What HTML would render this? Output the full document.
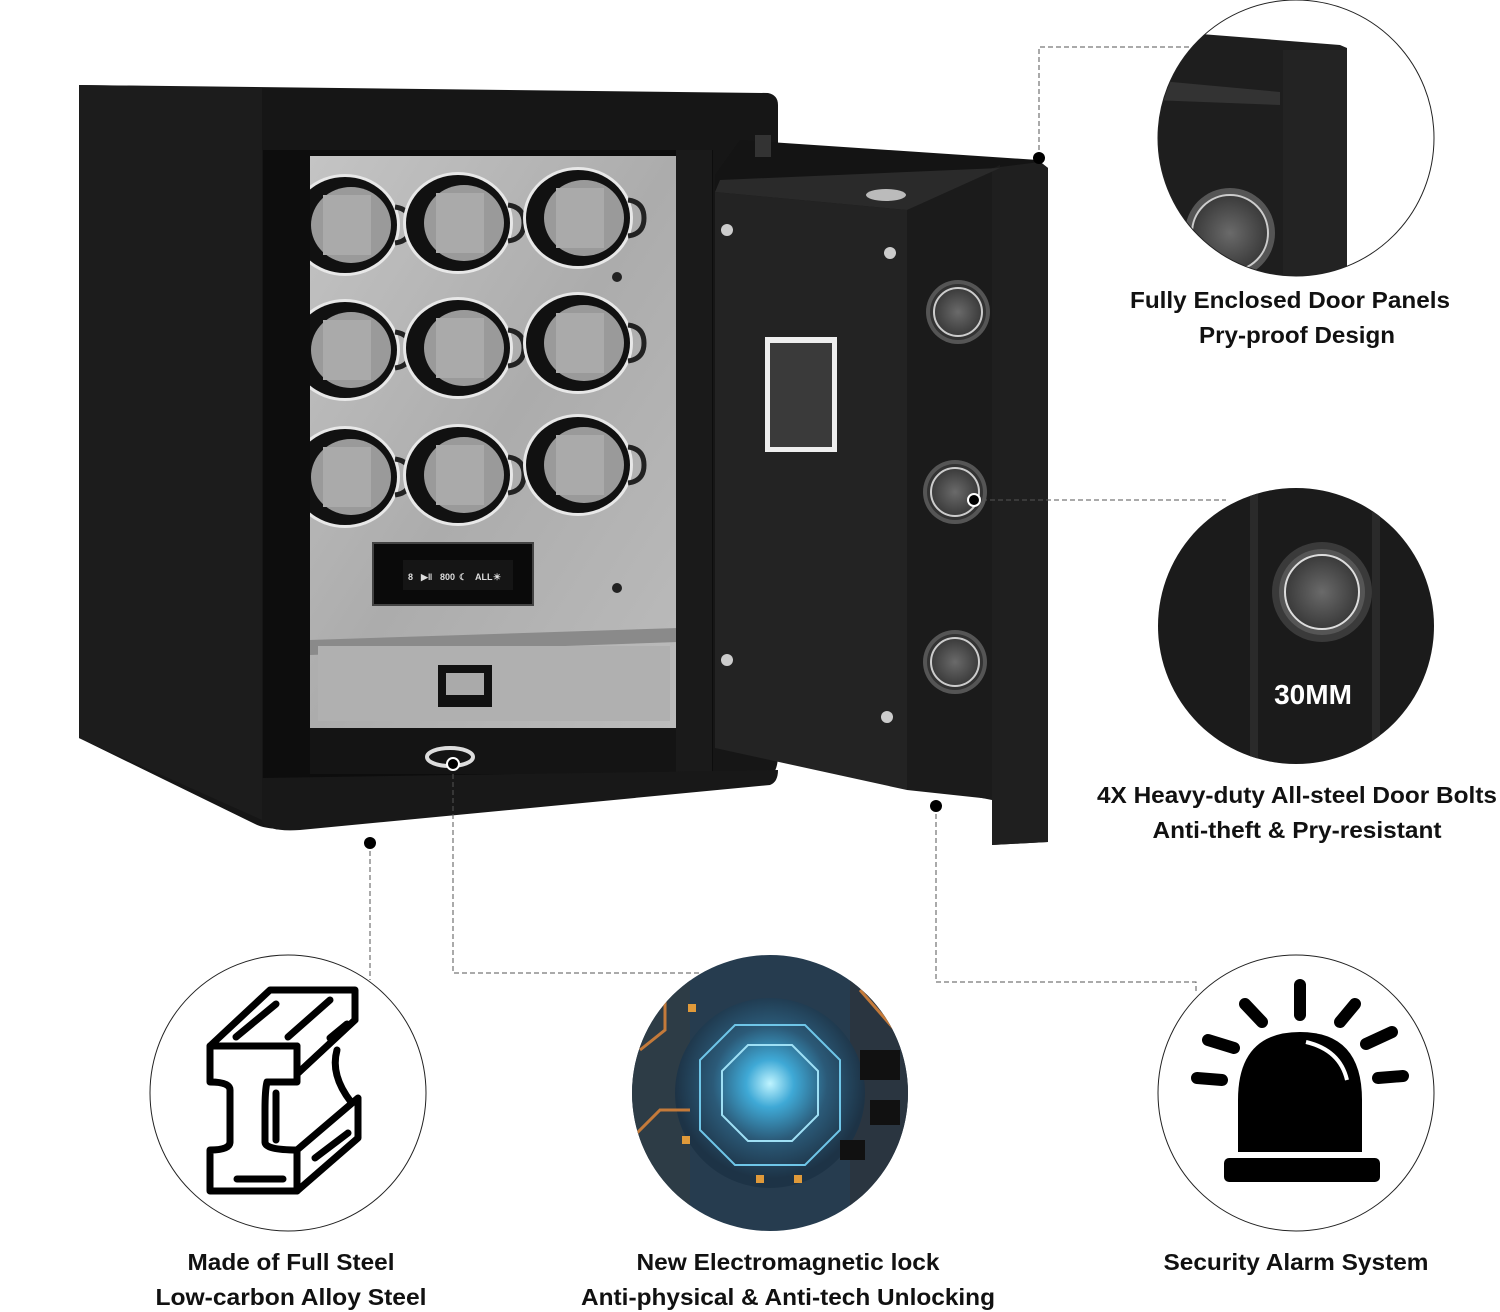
<!DOCTYPE html>
<html><head><meta charset="utf-8"><style>
html,body{margin:0;padding:0;background:#fff;}
svg{display:block;}
text{font-family:"Liberation Sans",Arial,sans-serif;font-weight:bold;}
</style></head><body>
<svg width="1500" height="1312" viewBox="0 0 1500 1312" xmlns="http://www.w3.org/2000/svg">
<defs>
<clipPath id="c1"><circle cx="1296" cy="138" r="138"/></clipPath>
<clipPath id="c2"><circle cx="1296" cy="626" r="138"/></clipPath>
<clipPath id="c3"><circle cx="770" cy="1093" r="138"/></clipPath>
<clipPath id="panel"><rect x="310" y="156" width="368" height="574"/></clipPath>
<radialGradient id="glow" cx="0.5" cy="0.45" r="0.5">
<stop offset="0" stop-color="#bff4ff"/><stop offset="0.25" stop-color="#3fa9d6"/><stop offset="0.6" stop-color="#2b5a78"/><stop offset="1" stop-color="#1d3346"/></radialGradient>
<radialGradient id="btn" cx="0.5" cy="0.5" r="0.5"><stop offset="0" stop-color="#6a6a6a"/><stop offset="1" stop-color="#3a3a3a"/></radialGradient>
<linearGradient id="grey" x1="0" y1="0" x2="1" y2="1"><stop offset="0" stop-color="#c4c4c4"/><stop offset="0.5" stop-color="#acacac"/><stop offset="1" stop-color="#bcbcbc"/></linearGradient>
<g id="cup">
<ellipse cx="0" cy="0" rx="55" ry="51" fill="#e8e8e8"/>
<ellipse cx="0" cy="0" rx="52" ry="48" fill="#111"/>
<ellipse cx="6" cy="0" rx="40" ry="38" fill="#9a9a9a"/>
<rect x="-22" y="-30" width="48" height="60" fill="#aaa"/>
<path d="M50,-18 Q66,-16 66,0 Q66,16 50,18" fill="none" stroke="#222" stroke-width="5"/>
</g>
<g id="bolt">
<circle r="32" fill="#555"/><circle r="28" fill="#333"/><circle r="24" fill="url(#btn)" stroke="#ccc" stroke-width="2"/>
</g>
</defs>

<!-- SAFE BODY -->
<path d="M79,85 L768,93 Q778,95 778,105 L778,755 Q778,772 768,780 L300,828 Q268,831 255,824 L79,738 Z" fill="#161616"/>
<path d="M79,85 L262,88 L262,820 L79,738 Z" fill="#1c1c1c"/>
<rect x="263" y="150" width="450" height="628" fill="#0d0d0d"/>
<rect x="310" y="156" width="368" height="574" fill="url(#grey)"/>
<path d="M310,640 L678,628 L678,642 L310,655 Z" fill="#8a8a8a"/>
<rect x="318" y="646" width="352" height="75" fill="#b0b0b0"/>
<rect x="438" y="665" width="54" height="42" fill="#111"/><rect x="446" y="673" width="38" height="22" fill="#aaa"/>
<rect x="310" y="728" width="368" height="46" fill="#141414"/>
<rect x="676" y="150" width="36" height="628" fill="#1a1a1a"/>
<g clip-path="url(#panel)">
<use href="#cup" x="345" y="225"/><use href="#cup" x="458" y="223"/><use href="#cup" x="578" y="218"/>
<use href="#cup" x="345" y="350"/><use href="#cup" x="458" y="348"/><use href="#cup" x="578" y="343"/>
<use href="#cup" x="345" y="477"/><use href="#cup" x="458" y="475"/><use href="#cup" x="578" y="465"/>
</g>
<circle cx="617" cy="277" r="5" fill="#222"/><circle cx="617" cy="588" r="5" fill="#222"/>
<rect x="373" y="543" width="160" height="62" fill="#0a0a0a" stroke="#444" stroke-width="2"/>
<rect x="403" y="560" width="110" height="30" fill="#151515"/>
<g fill="#ddd" font-size="9"><text x="408" y="580">8</text><text x="421" y="580">▶‖</text><text x="440" y="580">800</text><text x="459" y="580">☾</text><text x="475" y="580">ALL</text><text x="493" y="580">☀</text></g>
<ellipse cx="450" cy="757" rx="23" ry="9" fill="none" stroke="#ddd" stroke-width="4"/>
<path d="M262,778 L778,770 Q778,782 770,785 L300,830 Q268,832 262,822 Z" fill="#181818"/>

<!-- DOOR -->
<path d="M740,140 L1038,160 L1048,168 L1048,842 L992,845 L992,800 L715,745 L715,175 Z" fill="#141414"/>
<path d="M715,192 L907,210 L907,790 L715,748 Z" fill="#232323"/>
<path d="M907,210 L1000,165 L1000,800 L907,790 Z" fill="#1b1b1b"/>
<path d="M992,168 L1040,162 L1048,168 L1048,842 L992,845 Z" fill="#1f1f1f"/>
<path d="M720,180 L1000,168 L907,210 L715,192 Z" fill="#2a2a2a"/>
<ellipse cx="886" cy="195" rx="20" ry="6" fill="#bbb"/>
<rect x="755" y="135" width="16" height="22" fill="#333"/>
<rect x="765" y="337" width="72" height="115" fill="#eee"/><rect x="770" y="343" width="62" height="104" fill="#3a3a3a"/>
<circle cx="727" cy="230" r="6" fill="#ccc"/><circle cx="890" cy="253" r="6" fill="#ccc"/>
<circle cx="727" cy="660" r="6" fill="#ccc"/><circle cx="887" cy="717" r="6" fill="#ccc"/>
<use href="#bolt" x="958" y="312"/><use href="#bolt" x="955" y="492"/><use href="#bolt" x="955" y="662"/>

<!-- connectors -->
<g fill="none" stroke="#555" stroke-width="1" stroke-dasharray="5,3">
<path d="M1039,158 L1039,47 L1190,47"/>
<path d="M974,500 L1226,500"/>
<path d="M370,843 L370,980"/>
<path d="M453,766 L453,973 L700,973"/>
<path d="M936,806 L936,982 L1196,982 L1196,992"/>
</g>
<g fill="#000"><circle cx="1039" cy="158" r="6"/><circle cx="370" cy="843" r="6"/><circle cx="936" cy="806" r="6"/></g>
<circle cx="974" cy="500" r="6" fill="#000" stroke="#fff" stroke-width="2"/>
<circle cx="453" cy="764" r="6" fill="#000" stroke="#fff" stroke-width="2"/>

<!-- top right circle -->
<g clip-path="url(#c1)">
<rect x="1150" y="0" width="300" height="290" fill="#fff"/>
<path d="M1150,30 L1340,45 L1347,48 L1347,290 L1150,290 Z" fill="#1e1e1e"/>
<rect x="1283" y="50" width="64" height="240" fill="#232323"/>
<path d="M1150,80 L1280,92 L1280,105 L1150,100 Z" fill="#333"/>
<circle cx="1230" cy="233" r="45" fill="#555"/><circle cx="1230" cy="233" r="38" fill="url(#btn)" stroke="#ccc" stroke-width="2"/>
</g>
<circle cx="1296" cy="138" r="138" fill="none" stroke="#222" stroke-width="1"/>

<!-- mid right circle -->
<g clip-path="url(#c2)">
<rect x="1150" y="480" width="300" height="300" fill="#1b1b1b"/>
<rect x="1250" y="480" width="8" height="300" fill="#2a2a2a"/>
<rect x="1372" y="480" width="8" height="300" fill="#2a2a2a"/>
<circle cx="1322" cy="592" r="50" fill="#3a3a3a"/>
<circle cx="1322" cy="592" r="43" fill="#555"/><circle cx="1322" cy="592" r="37" fill="url(#btn)" stroke="#ddd" stroke-width="2"/>
</g>
<text x="1313" y="704" font-size="28" fill="#fff" text-anchor="middle">30MM</text>

<!-- bottom left circle -->
<circle cx="288" cy="1093" r="138" fill="#fff" stroke="#222" stroke-width="1"/>
<g fill="none" stroke="#000" stroke-width="7" stroke-linejoin="round" stroke-linecap="round">
<path d="M210,1046 L270,990 L355,990 L355,1020 L297,1074 L297,1046 Z"/>
<path d="M210,1046 L297,1046 L297,1082 L267,1082 Q265,1090 265,1110 L265,1142 Q265,1150 297,1150 L297,1191 L210,1191 L210,1150 Q230,1150 230,1142 L230,1090 Q230,1082 210,1082 Z"/>
<path d="M297,1074 L355,1020"/>
<path d="M297,1150 L358,1098 L358,1138 L297,1191"/>
<path d="M337,1050 Q330,1075 351,1102"/>
<path d="M237,1179 L283,1179 M236,1037 L276,1004 M288,1037 L330,1000 M330,1038 L347,1024 M315,1158 L348,1133 M276,1140 L276,1093"/>
</g>

<!-- bottom middle circle -->
<g clip-path="url(#c3)">
<rect x="620" y="950" width="300" height="290" fill="#263c4f"/>
<rect x="620" y="950" width="70" height="290" fill="#2d3c46"/>
<rect x="850" y="950" width="70" height="290" fill="#2a3540"/>
<circle cx="770" cy="1093" r="95" fill="url(#glow)"/>
<polygon points="735,1025 805,1025 840,1060 840,1130 805,1165 735,1165 700,1130 700,1060" fill="none" stroke="#6fc6e8" stroke-width="2"/>
<polygon points="748,1045 792,1045 818,1071 818,1115 792,1141 748,1141 722,1115 722,1071" fill="none" stroke="#9fe0f5" stroke-width="2"/>
<g stroke="#c47a3a" stroke-width="3" fill="none">
<path d="M640,1050 L665,1030 L665,980"/><path d="M630,1140 L660,1110 L690,1110"/><path d="M860,990 L895,1030"/><path d="M870,985 L905,1020"/>
</g>
<g fill="#e09a3a"><rect x="688" y="1004" width="8" height="8"/><rect x="682" y="1136" width="8" height="8"/><rect x="756" y="1175" width="8" height="8"/><rect x="794" y="1175" width="8" height="8"/></g>
<g fill="#111"><rect x="860" y="1050" width="40" height="30"/><rect x="870" y="1100" width="30" height="25"/><rect x="840" y="1140" width="25" height="20"/></g>
</g>

<!-- bottom right circle -->
<circle cx="1296" cy="1093" r="138" fill="#fff" stroke="#222" stroke-width="1"/>
<g fill="#000">
<path d="M1238,1152 L1238,1100 Q1238,1032 1300,1032 Q1362,1032 1362,1100 L1362,1152 Z"/>
<rect x="1224" y="1158" width="156" height="24" rx="5"/>
</g>
<path d="M1306,1042 Q1340,1050 1347,1080" fill="none" stroke="#fff" stroke-width="4"/>
<g stroke="#000" stroke-width="12" stroke-linecap="round">
<line x1="1300" y1="985" x2="1300" y2="1015"/>
<line x1="1245" y1="1004" x2="1262" y2="1022"/>
<line x1="1355" y1="1004" x2="1340" y2="1022"/>
<line x1="1208" y1="1040" x2="1234" y2="1048"/>
<line x1="1392" y1="1032" x2="1366" y2="1044"/>
<line x1="1197" y1="1078" x2="1222" y2="1080"/>
<line x1="1403" y1="1076" x2="1378" y2="1078"/>
</g>

<!-- labels -->
<g font-size="23" fill="#111" text-anchor="middle">
<text x="1290" y="308" textLength="320" lengthAdjust="spacingAndGlyphs">Fully Enclosed Door Panels</text>
<text x="1297" y="343" textLength="196" lengthAdjust="spacingAndGlyphs">Pry-proof Design</text>
<text x="1297" y="803" textLength="400" lengthAdjust="spacingAndGlyphs">4X Heavy-duty All-steel Door Bolts</text>
<text x="1297" y="838" textLength="289" lengthAdjust="spacingAndGlyphs">Anti-theft &amp; Pry-resistant</text>
<text x="291" y="1270" textLength="207" lengthAdjust="spacingAndGlyphs">Made of Full Steel</text>
<text x="291" y="1305" textLength="271" lengthAdjust="spacingAndGlyphs">Low-carbon Alloy Steel</text>
<text x="788" y="1270" textLength="303" lengthAdjust="spacingAndGlyphs">New Electromagnetic lock</text>
<text x="788" y="1305" textLength="414" lengthAdjust="spacingAndGlyphs">Anti-physical &amp; Anti-tech Unlocking</text>
<text x="1296" y="1270" textLength="265" lengthAdjust="spacingAndGlyphs">Security Alarm System</text>
</g>
</svg>
</body></html>
